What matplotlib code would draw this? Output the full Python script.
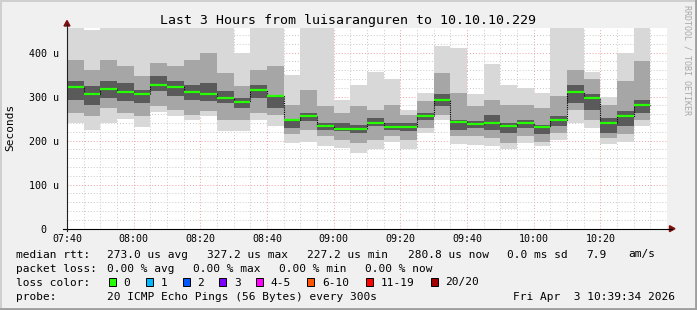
#!/usr/bin/env python3
"""SmokePing style latency chart: last 3 hours, luisaranguren -> 10.10.10.229."""

import matplotlib
matplotlib.use("Agg")
import matplotlib.pyplot as plt
import numpy as np
from matplotlib.patches import Polygon, Rectangle
from matplotlib.lines import Line2D
from matplotlib.transforms import Affine2D

W, H = 697, 310

# ── data (microseconds), one entry per 5 minute step starting 07:40 ─────────
step_min = 5
median = [321, 305, 317, 310, 307, 327, 321, 310, 305, 298, 288, 314, 302,
          246, 257, 234, 227, 227, 241, 232, 232, 257, 292, 242, 237, 239,
          234, 241, 232, 246, 310, 296, 239, 255, 281]
ping_max = [470, 452, 470, 470, 470, 470, 470, 470, 470, 470, 399, 470, 470,
            350, 470, 470, 292, 327, 355, 340, 269, 308, 416, 411, 306, 375,
            327, 319, 308, 470, 470, 355, 299, 399, 470]
ping_min = [239, 225, 240, 249, 232, 264, 257, 246, 255, 221, 221, 248, 234,
            195, 196, 188, 183, 173, 181, 196, 181, 218, 248, 193, 191, 188,
            182, 195, 187, 202, 240, 229, 193, 198, 234]
mid_hi = [384, 361, 384, 369, 346, 376, 369, 384, 399, 354, 323, 361, 369,
          282, 316, 278, 263, 278, 270, 282, 259, 289, 354, 308, 278, 293,
          282, 282, 274, 301, 361, 339, 282, 335, 380]
mid_lo = [263, 255, 274, 263, 255, 278, 270, 259, 267, 248, 248, 263, 259,
          214, 225, 210, 202, 195, 202, 210, 202, 229, 259, 210, 210, 206,
          195, 210, 198, 217, 270, 248, 206, 214, 248]
core_hi = [335, 323, 335, 331, 316, 346, 335, 327, 331, 312, 297, 327, 304,
           248, 263, 240, 240, 236, 251, 240, 240, 263, 305, 248, 244, 259,
           240, 248, 236, 255, 327, 305, 251, 267, 293]
core_lo = [293, 282, 297, 289, 286, 312, 301, 293, 289, 286, 274, 297, 275,
           229, 244, 225, 221, 217, 233, 225, 221, 248, 278, 225, 229, 225,
           217, 229, 214, 233, 286, 270, 217, 233, 263]

xtick_labels = ["07:40", "08:00", "08:20", "08:40", "09:00", "09:20",
                "09:40", "10:00", "10:20"]
ytick_vals = [0, 100, 200, 300, 400]
ytick_labels = ["0  ", "100 u", "200 u", "300 u", "400 u"]

loss_labels = ["0", "1", "2", "3", "4-5", "6-10", "11-19", "20/20"]
loss_colors = ["#26ff00", "#00b8ff", "#0059ff", "#7e00ff", "#ff00ff",
               "#ff5500", "#ff0000", "#a10000"]

plt.rcParams.update({
    "font.family": "DejaVu Sans Mono",
    "font.size": 8,
})

fig = plt.figure(figsize=(W / 100, H / 100), dpi=100, facecolor="#f0f0f0")
px = Affine2D().scale(1 / W, -1 / H).translate(0, 1) + fig.transFigure

# plot area: x 67..667 px, y 27.5..228.7 px
ax = fig.add_axes([67 / W, 1 - 228.7 / H, 600 / W, (228.7 - 27.5) / H])
ax.set_facecolor("white")
ax.set_xlim(0, 180)
ax.set_ylim(0, 457)
for s in ax.spines.values():
    s.set_visible(False)

# grid
ax.set_xticks(np.arange(0, 161, 20))
ax.set_xticks(np.arange(0, 181, 5), minor=True)
ax.set_xticklabels(xtick_labels)
ax.set_yticks(ytick_vals)
ax.set_yticks(np.arange(0, 457, 20), minor=True)
ax.set_yticklabels(ytick_labels)
ax.tick_params(which="both", length=0)
ax.tick_params(axis="x", pad=4, labelsize=7.2)
ax.tick_params(axis="y", pad=5.5, labelsize=7.2)
ax.grid(which="minor", color="#c8c8c8", linestyle=(0, (1, 2)), lw=0.7)
ax.grid(which="major", color="#f0a0a0", linestyle=(0, (1, 2)), lw=0.7)
ax.set_axisbelow(True)

# smoke: outer range, middle pings, core around the median
t = np.arange(len(median)) * step_min
for lo, hi, col in [(ping_min, ping_max, "#d8d8d8"),
                    (mid_lo, mid_hi, "#a6a6a6"),
                    (core_lo, core_hi, "#5a5a5a")]:
    lo = np.array(lo); hi = np.array(hi)
    ax.bar(t, hi - lo, bottom=lo, width=step_min, align="edge",
           color=col, linewidth=0, zorder=2)

# median: black dotted risers + green steps
med = np.array(median)
ax.step(np.r_[t, t[-1] + step_min], np.r_[med, med[-1]], where="post",
        color="black", lw=0.8, linestyle=(0, (1, 1)), zorder=3)
ax.hlines(med, t, t + step_min, color="#26ff00", lw=1.6, zorder=4)

# axis lines with arrows
fig.add_artist(Line2D([63, 672], [228.7, 228.7], color="black", lw=0.8,
                      transform=px))
fig.add_artist(Line2D([67, 67], [231, 24], color="#202020", lw=0.8,
                      transform=px))
fig.add_artist(Polygon([[675, 228.7], [669.5, 225.7], [669.5, 231.7]],
                       closed=True, color="#7f1010", transform=px))
fig.add_artist(Polygon([[67, 20.5], [64, 26], [70, 26]],
                       closed=True, color="#7f1010", transform=px))

# frame shading
fig.add_artist(Line2D([0, W], [0.8, 0.8], color="#cfcfcf", lw=1.4, transform=px))
fig.add_artist(Line2D([0.8, 0.8], [0, H], color="#cfcfcf", lw=1.4, transform=px))
fig.add_artist(Line2D([0, W], [H - 1.2, H - 1.2], color="#9e9e9e", lw=2.0,
                      transform=px))
fig.add_artist(Line2D([W - 1.2, W - 1.2], [0, H], color="#9e9e9e", lw=2.0,
                      transform=px))


def ptext(x, y, s, **kw):
    kw.setdefault("va", "baseline")
    kw.setdefault("ha", "left")
    fig.text(x / W, 1 - y / H, s, **kw)


ptext(348.5, 24, "Last 3 Hours from luisaranguren to 10.10.10.229",
      ha="center", fontsize=9.5)
ptext(10, 127, "Seconds", ha="center", va="center", rotation=90, fontsize=8)
ptext(687.5, 5, "RRDTOOL / TOBI OETIKER", ha="center", va="top",
      rotation=270, fontsize=6, color="#a8a8a8")

# legend block
rows = [257.5, 271.5, 285.5, 299.5]
ptext(16, rows[0], "median rtt:")
for x, s in zip([107.3, 207.3, 307.3, 407.7, 507.3, 586, 628.7],
                ["273.0 us avg", "327.2 us max", "227.2 us min",
                 "280.8 us now", "0.0 ms sd", "7.9", "am/s"]):
    ptext(x, rows[0], s)
ptext(16, rows[1], "packet loss:")
for x, s in zip([107.3, 193.3, 279.3, 365],
                ["0.00 % avg", "0.00 % max", "0.00 % min", "0.00 % now"]):
    ptext(x, rows[1], s)
ptext(16, rows[2], "loss color:")
box_x = [108.7, 145.7, 182.7, 219.3, 256, 307.3, 365.7, 430.7]
for bx, lab, col in zip(box_x, loss_labels, loss_colors):
    fig.add_artist(Rectangle((bx, 277.5), 7, 8.5, facecolor=col,
                             edgecolor="black", lw=0.7, transform=px))
    ptext(bx + 14.6, rows[2], lab)
ptext(16, rows[3], "probe:")
ptext(107.3, rows[3], "20 ICMP Echo Pings (56 Bytes) every 300s")
ptext(513.3, rows[3], "Fri Apr  3 10:39:34 2026")

fig.savefig("out.png", dpi=100, facecolor=fig.get_facecolor())
